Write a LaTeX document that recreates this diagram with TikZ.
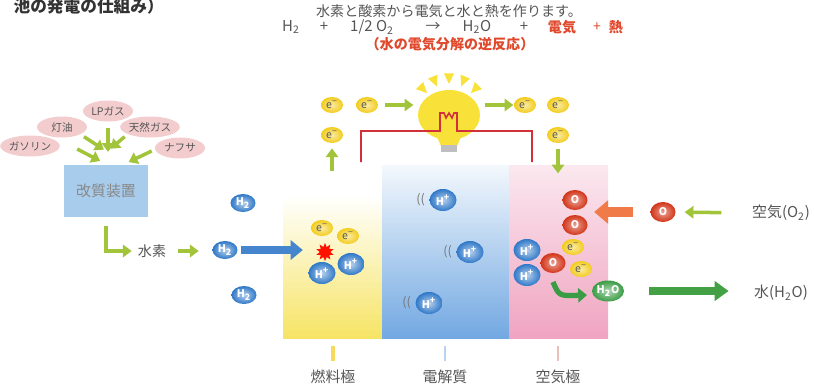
\documentclass[tikz,border=0pt]{standalone}
\usepackage{fontspec}
\setmainfont{Noto Sans CJK JP}
\usetikzlibrary{shapes.geometric,arrows.meta}

\definecolor{leafgreen}{HTML}{A2C43A}
\definecolor{textgray}{HTML}{555555}
\definecolor{heatred}{HTML}{E0482C}
\definecolor{cloudpink}{HTML}{F3CDCD}
\definecolor{reformerblue}{HTML}{A8CCEC}
\definecolor{hblue}{HTML}{2F78C8}
\definecolor{eyellow}{HTML}{F2CC1C}
\definecolor{ored}{HTML}{D23418}
\definecolor{wgreen}{HTML}{3A9C45}
\definecolor{airorange}{HTML}{F07A48}
\definecolor{wirered}{HTML}{D3313A}
\definecolor{bulbyellow}{HTML}{F8E23A}
\definecolor{anodeyellow}{HTML}{F6E465}
\definecolor{electrolyteblue}{HTML}{72A8E2}
\definecolor{cathodepink}{HTML}{EFA4C0}

\begin{document}
\begin{tikzpicture}[
  x=0.02cm, y=-0.02cm,
  fuel_cloud/.style={
    ellipse, fill=cloudpink, text=textgray, inner sep=0pt,
    minimum width=1.0cm, minimum height=0.42cm, font=\fontsize{6}{7}\selectfont
  },
  particle/.style={
    ellipse, inner sep=0pt, font=\bfseries\fontsize{6}{7}\selectfont
  },
  hydrogen/.style={
    particle, inner color=hblue!35!white, outer color=hblue, text=white,
    minimum width=0.5cm, minimum height=0.36cm
  },
  proton/.style={
    hydrogen, minimum width=0.54cm, minimum height=0.44cm
  },
  electron/.style={
    particle, inner color=eyellow!40!white, outer color=eyellow, text=black!65,
    minimum width=0.44cm, minimum height=0.32cm, font=\fontsize{6}{6}\selectfont
  },
  oxygen/.style={
    particle, inner color=ored!45!white, outer color=ored, text=white,
    minimum width=0.5cm, minimum height=0.4cm
  },
  flow/.style={
    draw=leafgreen, line width=2pt, -{Triangle[length=5pt,width=7pt]}
  },
  caption_text/.style={
    text=textgray, font=\fontsize{8}{9}\selectfont
  }]
  \useasboundingbox (0,0) rectangle (814,386);
  %
  \node[anchor=east, text=black!80, font=\bfseries\fontsize{9.5}{10}\selectfont]
    (title) at (170,6) {池の発電の仕組み）};
  \node[caption_text] (summary) at (449,11) {水素と酸素から電気と水と熱を作ります。};
  \foreach \x/\t in {291/{H\textsubscript{2}}, 324/+, 372/{1/2 O\textsubscript{2}},
                     433/→, 477/{H\textsubscript{2}O}, 524/+} {
    \node[caption_text, font=\fontsize{8.5}{9}\selectfont] at (\x,27) {\t};
  }
  \node[caption_text, text=heatred, font=\bfseries\fontsize{8}{9}\selectfont] (power) at (562,27) {電気};
  \node[caption_text, text=heatred] (plus) at (597,27) {+};
  \node[caption_text, text=heatred, font=\bfseries\fontsize{8}{9}\selectfont] (heat) at (616,27) {熱};
  \node[caption_text, text=heatred, font=\bfseries\fontsize{8}{9}\selectfont]
    (reverse) at (450,44) {（水の電気分解の逆反応）};
  %
  % fuels and reformer
  \node[fuel_cloud] (lp_gas) at (108,111) {LPガス};
  \node[fuel_cloud] (kerosene) at (62,127) {灯油};
  \node[fuel_cloud] (natural_gas) at (150,127) {天然ガス};
  \node[fuel_cloud] (gasoline) at (30,146) {ガソリン};
  \node[fuel_cloud] (naphtha) at (180,148) {ナフサ};
  \node[fill=reformerblue, minimum width=1.7cm, minimum height=1.04cm,
        text=textgray!70, font=\fontsize{8.5}{9}\selectfont] (reformer) at (106,191) {改質装置};
  \draw[flow] (lp_gas.south) ++(0,6) -- ++(0,24);
  \draw[flow] (kerosene.south east) ++(4,2) -- ++(20,13);
  \draw[flow] (natural_gas.south west) ++(-4,2) -- ++(-14,12);
  \draw[flow] (gasoline.east) ++(17,3) -- ++(23,12);
  \draw[flow] (naphtha.west) ++(-3,3) -- ++(-23,11);
  \node[caption_text] (hydrogen_text) at (152,251) {水素};
  \draw[flow, line width=2.6pt] (reformer.south) ++(0,9) |- (hydrogen_text.west);
  \draw[flow, shorten <=3pt, shorten >=2pt] (hydrogen_text.east) -- ++(30,0);
  %
  % cell: fuel electrode, electrolyte, air electrode
  \shade[top color=white, middle color=anodeyellow!85, bottom color=anodeyellow]
    (283,195) rectangle (382,338);
  \shade[top color=electrolyteblue!8, middle color=electrolyteblue!55, bottom color=electrolyteblue]
    (382,165) rectangle (509,338);
  \shade[top color=cathodepink!25, middle color=cathodepink!75, bottom color=cathodepink]
    (509,165) rectangle (608,338);
  %
  % light bulb and outer circuit
  \node[ellipse, fill=bulbyellow, minimum width=1.24cm, minimum height=1.0cm] (bulb) at (449,115) {};
  \fill[bulbyellow] (433,128) -- (465,128) -- (457,146) -- (441,146) -- cycle;
  \fill[black!25] (441,145) rectangle (457,152);
  \foreach \a in {-45,-67,-90,-113,-135} {
    \fill[bulbyellow, shift={(bulb.center)}] (\a:31) -- (\a-7:42) -- (\a+7:42) -- cycle;
  }
  \draw[wirered, line width=0.9pt] (361,162) |- (440,131) -- (440,113) -- (444,113)
    -- (446,118) -- (449,113) -- (452,118) -- (454,113) -- (457,113) -- (457,131) -| (532,162);
  %
  \node[hydrogen] (h2_top) at (243,203) {H\textsubscript{2}};
  \node[hydrogen] (h2_mid) at (225,250) {H\textsubscript{2}};
  \node[hydrogen] (h2_bot) at (244,295) {H\textsubscript{2}};
  \draw[draw=hblue!90!white, line width=4.5pt, -{Triangle[length=7pt,width=11pt]}]
    (h2_mid.east) ++(3,0) -- ++(62,0);
  %
  \node[star, star points=10, star point ratio=1.7, fill=red!85!orange,
        minimum size=0.36cm, inner sep=0pt] (spark) at (325,252) {};
  \node[electron] (e_anode1) at (322,228) {e\textsuperscript{−}};
  \node[electron] (e_anode2) at (348,236) {e\textsuperscript{−}};
  \node[proton] (p_anode1) at (322,273) {H\textsuperscript{+}};
  \node[proton] (p_anode2) at (351,264) {H\textsuperscript{+}};
  %
  \foreach \x/\y [count=\i] in {443/200, 470/252, 429/303} {
    \node[proton] (p_move\i) at (\x,\y) {H\textsuperscript{+}};
    \node[text=black!55, font=\fontsize{7}{7}\selectfont, left=-1pt] at (p_move\i.west) {((};
  }
  %
  % electrons leaving the fuel electrode and entering the air electrode
  \node[electron] (e_out1) at (332,105) {e\textsuperscript{−}};
  \node[electron] (e_out2) at (367,105) {e\textsuperscript{−}};
  \node[electron] (e_out3) at (332,135) {e\textsuperscript{−}};
  \node[electron] (e_in1) at (525,105) {e\textsuperscript{−}};
  \node[electron] (e_in2) at (558,105) {e\textsuperscript{−}};
  \node[electron] (e_in3) at (558,135) {e\textsuperscript{−}};
  \draw[flow] (e_out3.south) ++(0,28) -- ++(0,-23);
  \draw[flow] (e_out2.east) ++(7,0) -- ++(28,0);
  \draw[flow] (bulb.east) ++(5,-10) -- ++(28,0);
  \draw[flow] (e_in3.south) ++(0,6) -- ++(0,24);
  %
  \node[oxygen] (o_top1) at (575,200) {O};
  \node[oxygen] (o_top2) at (575,225) {O};
  \node[electron] (e_cathode1) at (573,247) {e\textsuperscript{−}};
  \node[oxygen] (o_react) at (553,263) {O};
  \node[electron] (e_cathode2) at (581,269) {e\textsuperscript{−}};
  \node[proton] (p_cathode1) at (527,250) {H\textsuperscript{+}};
  \node[proton] (p_cathode2) at (527,275) {H\textsuperscript{+}};
  \node[particle, inner color=wgreen!40!white, outer color=wgreen, text=white, minimum width=0.52cm,
        minimum height=0.42cm] (h2o) at (608,291) {H\textsubscript{2}O};
  \draw[draw=wgreen, line width=3pt, -{Triangle[length=5pt,width=8pt]}]
    (553,282) .. controls (559,296) .. (587,295);
  %
  \node[oxygen] (o_air) at (663,212) {O};
  \node[caption_text, font=\fontsize{8.5}{9}\selectfont] (air_text) at (781,213) {空気(O\textsubscript{2})};
  \node[caption_text, font=\fontsize{8.5}{9}\selectfont] (water_text) at (781,293) {水(H\textsubscript{2}O)};
  \draw[flow, shorten <=14pt, shorten >=5pt] (air_text.west) -- (o_air.east);
  \draw[draw=airorange, line width=5.5pt, -{Triangle[length=8pt,width=13pt]}, shorten <=10pt]
    (o_air.west) -- ++(-56,0);
  \draw[draw=wgreen!90!leafgreen, line width=4.5pt, -{Triangle[length=8pt,width=11pt]},
        shorten <=14pt, shorten >=11pt] (h2o.east) -- (h2o.east -| water_text.west);
  %
  % layer names
  \node[caption_text, font=\fontsize{8.5}{9}\selectfont] (fuel_electrode) at (333,377) {燃料極};
  \node[caption_text, font=\fontsize{8.5}{9}\selectfont] (electrolyte) at (445,377) {電解質};
  \node[caption_text, font=\fontsize{8.5}{9}\selectfont] (air_electrode) at (558,377) {空気極};
  \draw[anodeyellow!90!orange, line width=2pt] (fuel_electrode.north) ++(0,-3) -- ++(0,-15);
  \draw[electrolyteblue!50, line width=1.2pt] (electrolyte.north) ++(0,-3) -- ++(0,-15);
  \draw[cathodepink!60!brown!60, line width=1.5pt] (air_electrode.north) ++(0,-3) -- ++(0,-15);
\end{tikzpicture}
\end{document}
